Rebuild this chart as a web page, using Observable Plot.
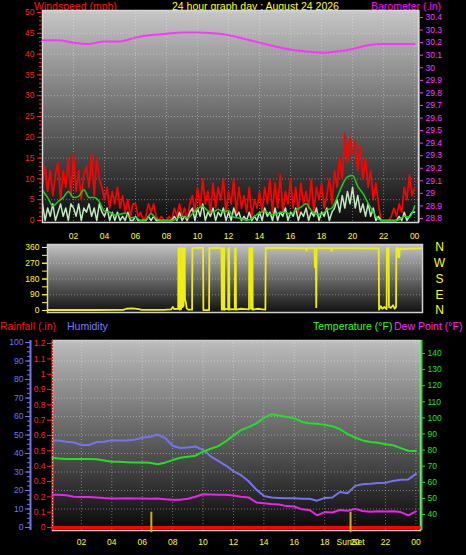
<!DOCTYPE html>
<html><head><meta charset="utf-8">
<script src="https://cdn.jsdelivr.net/npm/d3@7"></script>
<script src="https://cdn.jsdelivr.net/npm/@observablehq/plot@0.6"></script>
<style>
html,body{margin:0;padding:0;background:#000;}
#wrap{position:relative;width:466px;height:555px;background:#000;overflow:hidden;font-family:"Liberation Sans",Arial,sans-serif;}
#wrap svg{position:absolute;left:0;}
.t{position:absolute;font-size:10.5px;line-height:12px;white-space:nowrap;}
</style></head><body>
<div id="wrap">
 <div class="t" style="left:34px;top:0px;color:#ff1010">Windspeed (mph)</div>
 <div class="t" style="left:172px;top:0px;color:#ffff00">24 hour graph day : August 24 2026</div>
 <div class="t" style="left:371px;top:0px;color:#ff00ff">Barometer (.in)</div>
 <div class="t" style="left:0px;top:320px;color:#ff1010">Rainfall (.in)</div>
 <div class="t" style="left:67px;top:320px;color:#7b7bff">Humidity</div>
 <div class="t" style="left:313px;top:320px;color:#22ff22">Temperature (°F)</div>
 <div class="t" style="left:394px;top:320px;color:#ff22ff">Dew Point (°F)</div>
</div>
<script>
// ---------------- data ----------------
// wind gust (mph), 10-minute samples from 00:00
const gustMph = [
  9,13,7,12,6,11,  14,5,12,8,15,6,  16,7,12,5,11,13,  8,16,6,15,10,8,
  5,8,3,7,4,8,  3,6,2,5,1,4,  4,1,2,0,1,4,  2,4,1,0,1,0,
  0,1,0,3,1,4,  1,3,0,4,6,2,  8,3,10,4,7,2,  9,3,8,5,10,2,
  7,4,10,2,8,3,  6,2,8,1,5,3,  7,2,8,4,10,2,  9,3,11,2,7,4,
  10,3,8,2,9,4,  7,3,10,2,8,5,  9,3,6,10,4,12,  8,15,10,21,14,20,
  16,19,12,18,10,15,  8,12,5,9,4,0,  0,0,0,1,3,1,  4,2,8,5,11,6,
  8
];
// wind speed (mph), 10-minute samples
const speedMph = [
  4,0,3,1,4,0,  2,4,1,3,0,4,  3,1,4,0,3,2,  4,1,3,0,4,2,
  1,3,0,2,0,2,  0,1,0,2,0,0,  1,0,0,0,0,1,  0,1,0,0,0,0,
  0,0,0,1,0,2,  0,1,0,2,3,0,  3,1,4,0,2,1,  3,0,2,1,3,0,
  2,0,3,1,2,0,  1,0,2,0,1,0,  2,0,3,1,2,0,  3,0,2,1,3,0,
  2,1,3,0,2,1,  3,0,2,1,3,0,  2,1,3,0,2,3,  5,2,6,3,7,4,
  8,3,6,2,4,1,  4,1,3,0,1,0,  0,0,0,0,0,0,  1,0,2,0,1,2,
  2
];
// average wind (mph), 20-minute samples
const avgMph = [
  7.2,5.5,3.5,  4.5,5.5,7,  5.5,5.8,7.4,  5.5,5.5,4.5,
  2.2,2,1.3,  1.5,1.8,0.6,  0.8,0,0.2,  1.7,0.4,0,
  0,0,0.4,  1,0.6,1.6,  2.8,3.4,2.3,  2,2.7,2,
  2.4,0.8,0.6,  0.2,0.1,1,  1.8,2.3,1.5,  1.4,2,2,
  1.4,2.5,3.2,  4,2.4,1.5,  1.5,2.5,3,  5.5,8.5,10.5,
  10.8,8.2,6.5,  4.2,2,0.3,  0,0,0,  0.2,1,0.8,
  3.5
];
// barometer (in), hourly
const barometerIn = [30.22,30.22,30.20,30.19,30.21,30.21,30.24,30.26,30.27,30.28,30.28,30.275,
  30.26,30.23,30.20,30.17,30.145,30.13,30.12,30.13,30.15,30.18,30.19,30.19,30.19];
// wind direction (degrees)
const dirHours = [0.0,1.5,3.0,4.9,5.1,5.5,5.9,6.1,7.5,8.0,8.1,8.2,8.45,8.47,8.53,8.55,8.64,8.66,8.72,8.74,
  8.80,8.82,8.87,8.89,8.95,9.0,9.1,9.35,9.37,9.7,10.06,10.08,10.3,10.45,10.47,10.9,11.25,11.27,11.33,11.35,
  11.42,11.44,11.55,11.68,11.70,11.74,11.76,11.9,12.11,12.13,12.17,12.19,12.5,12.8,13.03,13.05,13.14,13.16,13.18,13.20,
  13.25,13.27,13.6,13.9,14.09,14.11,15.0,16.0,16.72,16.75,16.78,17.27,17.29,17.36,17.38,17.40,18.34,18.37,18.40,19.5,
  20.5,21.42,21.44,21.55,21.65,21.78,21.93,21.95,22.06,22.08,22.2,22.35,22.45,22.54,22.56,22.67,22.69,22.75,22.77,23.0,
  23.5,24.2];
const dirDegrees = [3,3,3,4,10,12,8,4,4,6,20,8,10,356,356,5,8,356,356,20,
  30,356,356,65,45,12,5,5,356,358,358,3,2,3,356,357,356,5,5,356,
  356,4,10,6,356,356,5,8,6,356,356,5,10,8,6,356,356,10,10,356,
  356,5,10,7,5,357,357,356,355,343,356,356,247,247,19,356,356,340,356,356,
  355,355,5,25,10,20,8,356,356,20,15,30,10,20,356,356,305,305,352,350,
  354,355];
// half-hourly temperature / humidity / dew point
const temperatureF = [75.2,74.8,74.5,74.4,74.4,74.4,74.3,73.5,72.7,72.7,72.5,72.3,72.3,72.2,71.2,72.2,73.8,75.2,75.8,76.5,
  79,80.8,82.5,85.5,89,92.5,94.3,96.5,100,102.3,101.5,100.6,99.8,97.5,96.7,96.3,95.7,94.8,93,90,
  87.8,86,85,84.5,83.6,83,81.2,79.6,79.5];
const humidityPct = [47,47,46.4,46,44.6,44.6,46.2,46.4,47.2,47,47,47.5,48.5,49.1,50.3,48.5,44.2,43,43.3,43.8,
  42,38.5,36,33.5,30.5,28.3,25,20.5,17,16.2,16,15.8,15.8,15.5,15.5,14.5,16,16.2,19.2,18.5,
  22.5,23.4,23.6,24,24.2,25.2,25.8,26,29];
const dewPointF = [52.3,52.2,52,51,50.8,50.8,50.6,50.2,50,50,50.1,50,49.9,49.8,49.9,49.5,49.1,49.2,49.8,51,
  52.6,52.4,52.2,52.3,51.8,51,50.6,47.5,47,46.5,46.2,45.2,45,43.2,42.8,39.5,41.5,41.2,42.8,42.3,
  43.5,42.2,41.7,42,41.9,42,41.5,39.5,42];
const rainHours = [0.1, 24.3];
const rainfallIn = [0, 0];
const sunHours = [6.6, 19.7];
const sunLabel = "SunSet";
// ticks
const hourTicks = [2,4,6,8,10,12,14,16,18,20,22,24];
const windTicks = [0,5,10,15,20,25,30,35,40,45,50];
const baroTicks = [28.8,28.9,29,29.1,29.2,29.3,29.4,29.5,29.6,29.7,29.8,29.9,30,30.1,30.2,30.3,30.4];
const dirLabelTicks = [0,90,180,270,360];
const compass = {0:"N",90:"E",180:"S",270:"W",360:"N"};
const rainTicks = [0,0.1,0.2,0.3,0.4,0.5,0.6,0.7,0.8,0.9,1,1.1,1.2];
const humTicks = [0,10,20,30,40,50,60,70,80,90,100];
const tempTicks = [40,50,60,70,80,90,100,110,120,130,140];

// ---------------- drawing ----------------
const FONT = '"Liberation Sans", Arial, sans-serif';
const wrap = document.getElementById("wrap");
const t10 = gustMph.map((_, i) => i / 6);
const t20 = avgMph.map((_, i) => i / 3);
const t60 = barometerIn.map((_, i) => i);
const t30 = temperatureF.map((_, i) => Math.max(0.1, i / 2));
const fmtHour = d => String(d % 24).padStart(2, "0");
const fmt1 = d => String(+d.toFixed(1));
const GRID = {stroke: "#f0f0f0", strokeOpacity: 0.4, strokeDasharray: "1,2"};
const RED = "#ff2020", MAG = "#ff33ff", YEL = "#ffff00", BLUE = "#7474f0", GRN = "#22e022";
const style = {background: "transparent", fontFamily: FONT, fontSize: "8.5px", overflow: "visible"};

function place(svg, top) { svg.style.top = top + "px"; wrap.appendChild(svg); return svg; }
function addGradient(svg, id, c0, c1) {
  const g = d3.select(svg).insert("defs", ":first-child").append("linearGradient")
    .attr("id", id).attr("x1", 0).attr("y1", 0).attr("x2", 0).attr("y2", 1);
  g.append("stop").attr("offset", 0).attr("stop-color", c0);
  g.append("stop").attr("offset", 1).attr("stop-color", c1);
}

// top: wind
const TOP = {width: 466, height: 240, marginTop: 10, marginBottom: 18, marginLeft: 42, marginRight: 48, style};
const xTop = {domain: [0, 24.25]};
const topSvg = Plot.plot({
  ...TOP, x: xTop, y: {domain: [-0.48, 50.48]},
  marks: [
    Plot.frame({fill: "url(#gTop)"}),
    Plot.gridX(hourTicks, GRID),
    Plot.gridY(windTicks.slice(1), GRID),
    Plot.line(gustMph, {x: t10, y: d => d, stroke: "#ff0000", strokeWidth: 1.7}),
    Plot.line(speedMph, {x: t10, y: d => d, stroke: "#bfe8bf", strokeWidth: 1.5}),
    Plot.line(avgMph, {x: t20, y: d => d, stroke: "#22cc22", strokeWidth: 1.5, curve: "monotone-x"}),
    Plot.frame({stroke: "#d8d8d8", strokeWidth: 1.5}),
    Plot.axisY(d3.range(0, 51), {tickSize: 3, fill: "none", stroke: RED, label: null}),
    Plot.axisY(windTicks, {tickSize: 5, tickPadding: 3, color: RED, label: null}),
    Plot.axisX(hourTicks, {tickSize: 0, tickPadding: 10, tickFormat: fmtHour, color: YEL, label: null})
  ]
});
addGradient(topSvg, "gTop", "#c6c6c6", "#0c0c0c");
place(topSvg, 0);

const baroSvg = Plot.plot({
  ...TOP, x: {...xTop, axis: null}, y: {domain: [28.768, 30.456]},
  marks: [
    Plot.line(barometerIn, {x: t60, y: d => d, stroke: MAG, strokeWidth: 2, curve: "monotone-x"}),
    Plot.ruleX([24.25], {stroke: MAG, dx: 1}),
    Plot.axisY(baroTicks, {anchor: "right", tickSize: 4, tickPadding: 3, tickFormat: fmt1, color: MAG, label: null})
  ]
});
place(baroSvg, 0);

// middle: wind direction
const midSvg = Plot.plot({
  width: 466, height: 80, marginTop: 4, marginBottom: 8, marginLeft: 47, marginRight: 44, style,
  x: {domain: [0, 24.25], axis: null}, y: {domain: [-11.4, 377]},
  marks: [
    Plot.frame({fill: "url(#gMid)"}),
    Plot.gridY([90, 180, 270], GRID),
    Plot.line(dirDegrees, {x: dirHours, y: d => d, stroke: "#eeee10", strokeWidth: 1.8}),
    Plot.frame({stroke: "#d0d0d0", strokeWidth: 1.5}),
    Plot.axisY(d3.range(0, 361, 45), {tickSize: 5, fill: "none", stroke: YEL, label: null}),
    Plot.axisY(dirLabelTicks, {tickSize: 5, tickPadding: 3, color: YEL, label: null}),
    Plot.axisY(dirLabelTicks, {anchor: "right", tickSize: 0, tickPadding: 17, textAnchor: "middle",
      tickFormat: d => compass[d], fontSize: 12, color: YEL, label: null})
  ]
});
addGradient(midSvg, "gMid", "#c2c2c2", "#101010");
place(midSvg, 240);

// bottom: humidity / rainfall / temperature
const BOT = {width: 466, height: 220, marginTop: 5, marginBottom: 25, marginLeft: 52, marginRight: 46, style};
const xBot = {domain: [0.1, 24.3]};
const botSvg = Plot.plot({
  ...BOT, x: xBot, y: {domain: [-1.62, 101.1]},
  marks: [
    Plot.frame({fill: "url(#gBot)"}),
    Plot.gridX(hourTicks, GRID),
    Plot.gridY(humTicks.slice(1), GRID),
    Plot.line(humidityPct, {x: t30, y: d => d, stroke: BLUE, strokeWidth: 2}),
    Plot.frame({stroke: "#d0d0d0", strokeWidth: 1.5}),
    Plot.ruleX([0.1], {stroke: BLUE, strokeWidth: 2, dx: -22}),
    Plot.axisY(d3.range(0, 101, 2.5), {tickSize: 3, fill: "none", stroke: BLUE, dx: -22, label: null}),
    Plot.axisY(humTicks, {tickSize: 5, tickPadding: 2, color: BLUE, dx: -22, label: null}),
    Plot.axisX(hourTicks, {tickSize: 0, tickPadding: 8, tickFormat: fmtHour, color: YEL, label: null})
  ]
});
addGradient(botSvg, "gBot", "#bcbcbc", "#080808");
place(botSvg, 335);

const rainSvg = Plot.plot({
  ...BOT, x: {...xBot, axis: null}, y: {domain: [-0.0196, 1.2198]},
  marks: [
    Plot.line(rainfallIn, {x: rainHours, y: d => d, stroke: "#ff0000", strokeWidth: 3}),
    Plot.ruleX(sunHours, {x: d => d, y1: -0.034, y2: 0.1, stroke: "#c8b020", strokeWidth: 2}),
    Plot.text([sunHours[1]], {x: d => d, text: () => sunLabel, frameAnchor: "bottom", lineAnchor: "top", dy: 8, fill: YEL}),
    Plot.ruleX([0.1], {stroke: RED, strokeDasharray: "2,1"}),
    Plot.axisY(rainTicks, {tickSize: 5, tickPadding: 2, tickFormat: fmt1, color: RED, label: null})
  ]
});
place(rainSvg, 335);

const tempSvg = Plot.plot({
  ...BOT, x: {...xBot, axis: null}, y: {domain: [30.06, 148.07]},
  marks: [
    Plot.line(dewPointF, {x: t30, y: d => d, stroke: "#ee22ee", strokeWidth: 2}),
    Plot.line(temperatureF, {x: t30, y: d => d, stroke: GRN, strokeWidth: 2}),
    Plot.ruleX([24.3], {stroke: GRN, strokeWidth: 2, dx: 1}),
    Plot.axisY(tempTicks, {anchor: "right", tickSize: 4, tickPadding: 3, color: GRN, label: null})
  ]
});
place(tempSvg, 335);
</script>
</body></html>
